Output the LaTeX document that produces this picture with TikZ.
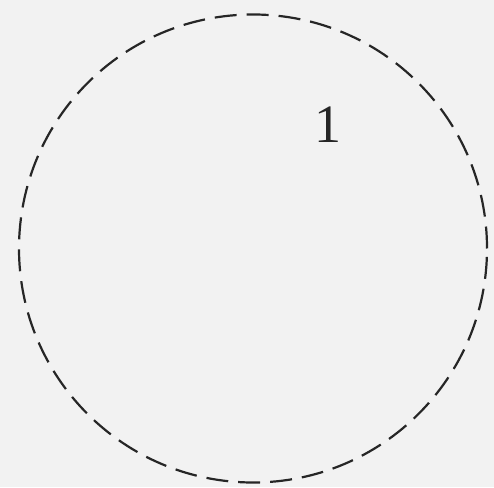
\documentclass[tikz,border=0pt]{standalone}
\usepackage{fontspec}
\setmainfont{Liberation Serif}
\definecolor{bg}{HTML}{F2F2F2}
\definecolor{ln}{HTML}{262626}
\begin{document}
\begin{tikzpicture}[x=1pt,y=1pt,
  regioncircle/.style={draw=ln,line width=2.2pt,dash pattern=on 22pt off 10pt},
  numlabel/.style={font=\fontsize{54}{58}\selectfont,text=ln,inner sep=0pt}]
\fill[bg] (0,0) rectangle (494,487);
\useasboundingbox (0,0) rectangle (494,487);
\coordinate (c) at (253,238.5);
\draw[regioncircle] (c) circle[radius=234];
\node[numlabel] (one) at (328,362) {1};
\end{tikzpicture}
\end{document}
